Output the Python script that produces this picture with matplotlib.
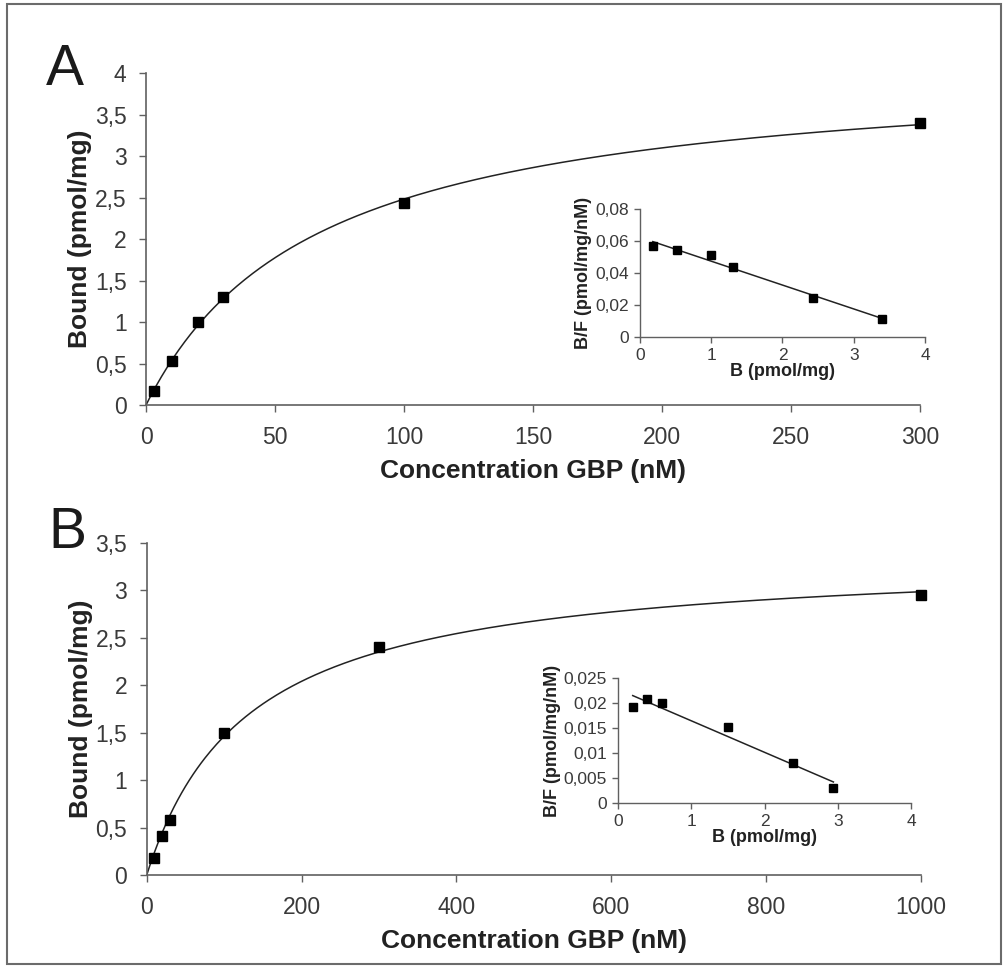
import numpy as np
import matplotlib
matplotlib.use("Agg")
import matplotlib.pyplot as plt
from matplotlib.patches import Rectangle
from matplotlib.ticker import FuncFormatter, MultipleLocator

plt.rcParams['font.family'] = ['Liberation Sans', 'DejaVu Sans']

# ---- data ----
# panel A: saturation binding
conc_a = [3, 10, 20, 30, 100, 300]
bound_a = [0.17, 0.53, 1.0, 1.3, 2.43, 3.4]
# panel A inset: Scatchard
scat_b_a = [0.18, 0.52, 1.0, 1.3, 2.43, 3.4]
scat_bf_a = [0.057, 0.0545, 0.051, 0.0435, 0.0245, 0.0115]

# panel B
conc_b = [10, 20, 30, 100, 300, 1000]
bound_b = [0.18, 0.41, 0.58, 1.5, 2.4, 2.95]
scat_b_b = [0.2, 0.4, 0.6, 1.5, 2.39, 2.94]
scat_bf_b = [0.0192, 0.0207, 0.0199, 0.0151, 0.008, 0.0029]

TICK_COL = '#3a3a3a'
SPINE_COL = '#606060'


def comma_fmt(v, pos):
    s = ('%.3f' % v).rstrip('0').rstrip('.')
    return s.replace('.', ',')


def fit_hyperbola(x, y):
    # one-site binding, least squares: grid on Kd, Bmax closed form
    x = np.asarray(x, float)
    y = np.asarray(y, float)
    best = None
    for kd in np.linspace(1, 2000, 20000):
        g = x / (kd + x)
        bmax = np.sum(y * g) / np.sum(g * g)
        err = np.sum((y - bmax * g) ** 2)
        if best is None or err < best[0]:
            best = (err, bmax, kd)
    return best[1], best[2]


def style_axes(ax, lw=1.2, length=5):
    for s in ['top', 'right']:
        ax.spines[s].set_visible(False)
    for s in ['left', 'bottom']:
        ax.spines[s].set_color(SPINE_COL)
        ax.spines[s].set_linewidth(lw)
    ax.tick_params(direction='out', length=length, width=1, color=SPINE_COL,
                   labelcolor=TICK_COL)
    ax.yaxis.set_major_formatter(FuncFormatter(comma_fmt))


def main_panel(ax, x, y, xmax, xstep, ymax):
    bmax, kd = fit_hyperbola(x, y)
    xs = np.linspace(0, xmax, 400)
    ax.plot(xs, bmax * xs / (kd + xs), color='#222222', lw=1.1)
    ax.plot(x, y, 's', color='black', ms=6.5, clip_on=False)
    ax.set_xlim(0, xmax)
    ax.set_ylim(0, ymax)
    ax.xaxis.set_major_locator(MultipleLocator(xstep))
    ax.yaxis.set_major_locator(MultipleLocator(0.5))
    style_axes(ax)
    ax.tick_params(labelsize=16.5)
    ax.tick_params(axis='y', pad=9)
    ax.tick_params(axis='x', pad=10)
    ax.set_xlabel('Concentration GBP (nM)', fontsize=19, fontweight='bold',
                  color='#222222', labelpad=7)
    ax.set_ylabel('Bound (pmol/mg)', fontsize=19, fontweight='bold',
                  color='#222222', labelpad=2)


def inset_panel(ax, x, y, ymax, ystep):
    slope, icpt = np.polyfit(x, y, 1)
    xl = np.array([min(x), max(x)])
    ax.plot(xl, slope * xl + icpt, color='#222222', lw=1.1)
    ax.plot(x, y, 's', color='black', ms=6, clip_on=False)
    ax.set_xlim(0, 4)
    ax.set_ylim(0, ymax)
    ax.xaxis.set_major_locator(MultipleLocator(1))
    ax.yaxis.set_major_locator(MultipleLocator(ystep))
    style_axes(ax, lw=1.0, length=4)
    ax.tick_params(labelsize=12.5, pad=4)
    ax.set_xlabel('B (pmol/mg)', fontsize=13, fontweight='bold',
                  color='#222222', labelpad=0)
    ax.set_ylabel('B/F (pmol/mg/nM)', fontsize=13, fontweight='bold',
                  color='#222222', labelpad=2)


fig = plt.figure(figsize=(10.05, 9.72), dpi=100)

ax_a = fig.add_axes([0.1453, 0.5833, 0.7701, 0.3416])
main_panel(ax_a, conc_a, bound_a, 300, 50, 4)
ins_a = fig.add_axes([0.6368, 0.6533, 0.2836, 0.1317])
inset_panel(ins_a, scat_b_a, scat_bf_a, 0.08, 0.02)

ax_b = fig.add_axes([0.146, 0.0998, 0.770, 0.3416])
main_panel(ax_b, conc_b, bound_b, 1000, 200, 3.5)
ins_b = fig.add_axes([0.615, 0.1739, 0.2915, 0.1286])
inset_panel(ins_b, scat_b_b, scat_bf_b, 0.025, 0.005)

fig.text(65 / 1005, 1 - 70 / 972, 'A', fontsize=41, color='#1a1a1a',
         ha='center', va='center')
fig.text(67 / 1005, 1 - 533 / 972, 'B', fontsize=41, color='#1a1a1a',
         ha='center', va='center')

# outer frame
fig.patches.append(Rectangle((7 / 1005, 1 - 964 / 972), 994 / 1005, 960 / 972,
                             transform=fig.transFigure, fill=False,
                             edgecolor='#6b6b6b', lw=1.5))

fig.savefig('out.png', dpi=100, facecolor='white')
